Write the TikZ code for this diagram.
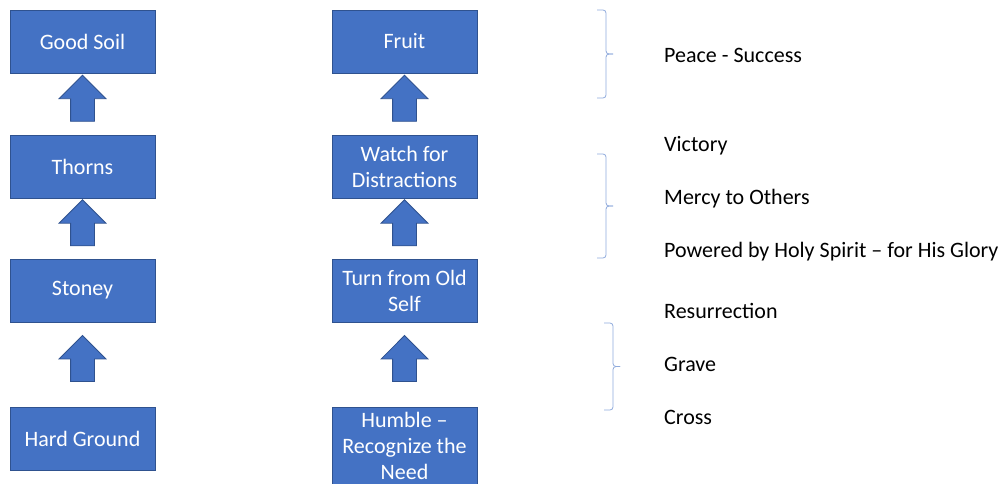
\documentclass[tikz,border=0pt]{standalone}
\usepackage{fontspec}
\setmainfont{Carlito}
\usetikzlibrary{shapes.arrows, calc, positioning}
\definecolor{themeBlue}{RGB}{68, 114, 196}
\definecolor{themeDarkBlue}{RGB}{47, 82, 143}
\definecolor{themeLightBlue}{RGB}{143, 170, 220}
\newcommand{\colShift}{322}
\newcommand{\stageLists}{%
    {% Soils
        Good Soil/41.5/63,
        Thorns/167/63,
        Stoney/290.5/63,
        Hard Ground/438.5/63%
    },
    {% Walk
        Fruit/41.5/63,
        Watch for\\Distractions/167/63,
        Turn from Old\\Self/290.5/63,
        Humble –\\Recognize the\\Need/446/78%
    }%
}
\newcommand{\noteList}{%
    Peace - Success/55,
    Victory/146,
    Mercy to Others/199,
    Powered by Holy Spirit – for His Glory/252,
    Resurrection/311,
    Grave/364,
    Cross/417%
}

\begin{document}
\begin{tikzpicture} [
        x=1pt, y=-1pt,
        stage/.style={draw=themeDarkBlue, fill=themeBlue, text=white, line width=1pt,
            minimum width=145pt, align=center, inner sep=0pt,
            font=\fontsize{22}{26}\selectfont},
        up arrow/.style={single arrow, draw=themeDarkBlue, fill=themeBlue, line width=0.8pt,
            shape border rotate=90, minimum height=46pt, inner sep=11.5pt,
            single arrow head extend=11.5pt, single arrow head indent=0pt},
        note/.style={anchor=west, inner sep=0pt, font=\fontsize{22}{24}\selectfont},
        bracket/.style={draw=themeLightBlue, line width=0.8pt, rounded corners=3pt},
    ]
    \useasboundingbox (0,0) rectangle (1003,483);

    \foreach \map [count=\i from 0] in \stageLists {
        \begin{scope}[xshift=\i*\colShift]
            \foreach \label/\ypos/\height [count=\n from 1] in \map {
                \node[stage, minimum height=\height] (stage \i \n) at (82.5,\ypos) {\label};
                \ifnum\n>1
                    \pgfmathtruncatemacro{\lastn}{\n-1}
                    \node[up arrow] (arrow \i \n) at ($(stage \i \lastn.south)!.5!(stage \i \n.north)$) {};
                \fi
            }
        \end{scope}
    }

    % right hand notes
    \foreach \label/\ypos [count=\n from 1] in \noteList {
        \node[note] (note \n) at (664,\ypos) {\label};
    }

    % brackets
    \foreach \top/\bot/\xb in {10/98/606, 154/258/606, 323/410/613} {
        \draw[bracket] (\xb-9,\top) -| (\xb,{(\top+\bot)/2}) -- (\xb+7,{(\top+\bot)/2});
        \draw[bracket] (\xb-9,\bot) -| (\xb,{(\top+\bot)/2}) -- (\xb+7,{(\top+\bot)/2});
    }
\end{tikzpicture}
\end{document}
